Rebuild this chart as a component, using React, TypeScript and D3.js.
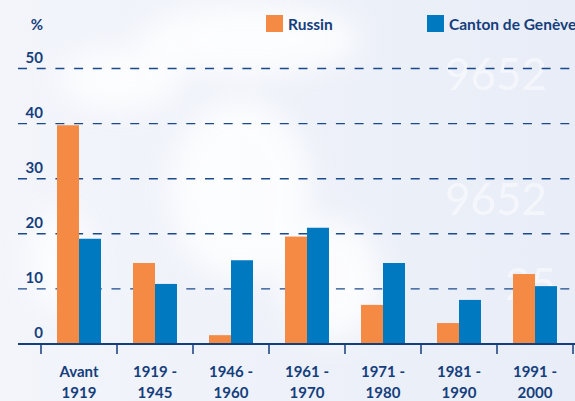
import { scaleBand, scaleLinear } from "d3";

const categories = [
  ["Avant", "1919"],
  ["1919 -", "1945"],
  ["1946 -", "1960"],
  ["1961 -", "1970"],
  ["1971 -", "1980"],
  ["1981 -", "1990"],
  ["1991 -", "2000"],
];
const seriesNames = ["Russin", "Canton de Genève"];
const russin = [39.7, 14.7, 1.6, 19.5, 7.1, 3.8, 12.7];
const geneve = [19.1, 10.9, 15.2, 21.1, 14.7, 8.0, 10.5];
const yTicks = [0, 10, 20, 30, 40, 50];

const colors = ["#f58a45", "#0079c1"];
const navy = "#153e7c";
const font = "Lato, 'Open Sans', sans-serif";

export default function App() {
  const width = 575;
  const height = 401;

  const keys = categories.map((c) => c.join(" "));
  const x0 = scaleBand<string>().domain(keys).range([41, 573]).padding(0);
  const x1 = scaleBand<number>().domain([0, 1]).range([16, 60]).padding(0);
  const y = scaleLinear().domain([0, 50]).range([344, 68.5]);
  const values = [russin, geneve];

  return (
    <div style={{ position: "fixed", left: 0, top: 0 }}>
      <svg width={width} height={height} style={{ display: "block" }}>
        <defs>
          <filter id="blur" x="-50%" y="-50%" width="200%" height="200%">
            <feGaussianBlur stdDeviation="14" />
          </filter>
          <linearGradient id="bg" x1="0" y1="0" x2="1" y2="0">
            <stop offset="0" stopColor="#f3f5fb" />
            <stop offset="1" stopColor="#e8edf7" />
          </linearGradient>
        </defs>
        <rect width={width} height={height} fill="url(#bg)" />
        {/* soft background blotches */}
        <g filter="url(#blur)" fill="#ffffff" opacity={0.85}>
          <ellipse cx={250} cy={40} rx={110} ry={35} />
          <ellipse cx={240} cy={190} rx={70} ry={90} />
          <ellipse cx={120} cy={80} rx={60} ry={30} />
          <ellipse cx={330} cy={280} rx={50} ry={60} />
          <ellipse cx={60} cy={260} rx={30} ry={50} />
        </g>
        <g fill="#ffffff" opacity={0.5} fontFamily={font} fontSize={44}>
          <text x={445} y={90}>9652</text>
          <text x={445} y={215}>9652</text>
          <text x={505} y={300}>25</text>
        </g>

        {/* gridlines */}
        {yTicks.slice(1).map((t) => (
          <line
            key={t}
            x1={18}
            x2={width}
            y1={y(t)}
            y2={y(t)}
            stroke="#1a4a8c"
            strokeWidth={1.4}
            strokeDasharray="9 9.7"
          />
        ))}
        {yTicks.map((t) => (
          <text
            key={t}
            x={43}
            y={y(t) - 6}
            textAnchor="end"
            fill={navy}
            fontFamily={font}
            fontWeight={700}
            fontSize={15}
          >
            {t}
          </text>
        ))}
        <text x={43} y={30} textAnchor="end" fill={navy} fontFamily={font} fontWeight={700} fontSize={15}>
          %
        </text>

        {/* bars */}
        {keys.map((k, i) => (
          <g key={k} transform={`translate(${x0(k)},0)`}>
            {values.map((vals, s) => (
              <rect
                key={s}
                x={x1(s)}
                y={y(vals[i])}
                width={x1.bandwidth()}
                height={y(0) - y(vals[i])}
                fill={colors[s]}
              />
            ))}
          </g>
        ))}

        {/* x axis */}
        <line x1={18} x2={width} y1={y(0)} y2={y(0)} stroke={navy} strokeWidth={2} />
        {[...keys.map((k) => x0(k) as number), x0.range()[1]].map((tx, i) => (
          <line key={i} x1={tx} x2={tx} y1={y(0)} y2={y(0) + 10} stroke={navy} strokeWidth={1.5} />
        ))}
        {categories.map((c, i) => (
          <text
            key={i}
            textAnchor="middle"
            fill={navy}
            fontFamily={font}
            fontWeight={700}
            fontSize={15}
          >
            <tspan x={(x0(keys[i]) as number) + x0.bandwidth() / 2} y={377}>
              {c[0]}
            </tspan>
            <tspan x={(x0(keys[i]) as number) + x0.bandwidth() / 2} y={398}>
              {c[1]}
            </tspan>
          </text>
        ))}

        {/* legend */}
        {seriesNames.map((n, i) => (
          <g key={n} transform={`translate(${i === 0 ? 266 : 427},15)`}>
            <rect width={17} height={17} fill={colors[i]} />
            <text x={22} y={15} fill={navy} fontFamily={font} fontWeight={700} fontSize={15.5}>
              {n}
            </text>
          </g>
        ))}
      </svg>
    </div>
  );
}
